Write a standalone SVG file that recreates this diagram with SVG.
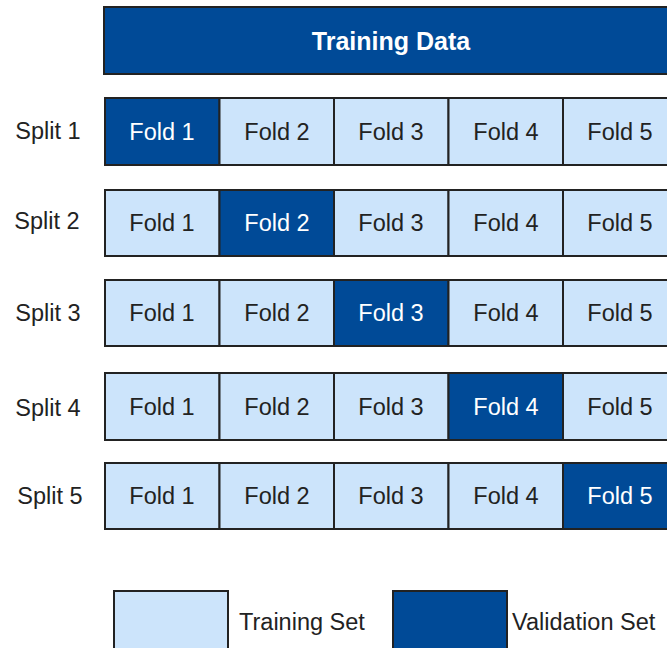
<svg xmlns="http://www.w3.org/2000/svg" width="667" height="648" viewBox="0 0 667 648">
  <style>
    .cell { stroke: #222; stroke-width: 2; }
    .train { fill: #cce4fb; }
    .valid { fill: #004a97; }
    text { font-family: "Liberation Sans", Arial, sans-serif; font-size: 23.5px; }
    .lbl { fill: #222; text-anchor: middle; }
    .lblw { fill: #fff; text-anchor: middle; }
    .split { fill: #222; text-anchor: middle; }
    .legend { fill: #222; text-anchor: start; }
    .title { fill: #fff; font-weight: bold; font-size: 25px; text-anchor: middle; }
  </style>

  <!-- Header bar -->
  <g id="training-data">
    <rect class="cell valid" x="104" y="7" width="580" height="67"/>
    <text class="title" x="391" y="50">Training Data</text>
  </g>

  <!-- Split 1 -->
  <g id="split-1">
    <text class="split" x="48" y="139">Split 1</text>
    <rect class="cell valid" x="105" y="98" width="114.5" height="67"/>
    <rect class="cell train" x="219.5" y="98" width="114.5" height="67"/>
    <rect class="cell train" x="334" y="98" width="114.5" height="67"/>
    <rect class="cell train" x="448.5" y="98" width="114.5" height="67"/>
    <rect class="cell train" x="563" y="98" width="114.5" height="67"/>
    <text class="lblw" x="162" y="140">Fold 1</text>
    <text class="lbl" x="277" y="140">Fold 2</text>
    <text class="lbl" x="391" y="140">Fold 3</text>
    <text class="lbl" x="506" y="140">Fold 4</text>
    <text class="lbl" x="620" y="140">Fold 5</text>
  </g>

  <!-- Split 2 -->
  <g id="split-2">
    <text class="split" x="47" y="229">Split 2</text>
    <rect class="cell train" x="105" y="190" width="114.5" height="66"/>
    <rect class="cell valid" x="219.5" y="190" width="114.5" height="66"/>
    <rect class="cell train" x="334" y="190" width="114.5" height="66"/>
    <rect class="cell train" x="448.5" y="190" width="114.5" height="66"/>
    <rect class="cell train" x="563" y="190" width="114.5" height="66"/>
    <text class="lbl" x="162" y="231">Fold 1</text>
    <text class="lblw" x="277" y="231">Fold 2</text>
    <text class="lbl" x="391" y="231">Fold 3</text>
    <text class="lbl" x="506" y="231">Fold 4</text>
    <text class="lbl" x="620" y="231">Fold 5</text>
  </g>

  <!-- Split 3 -->
  <g id="split-3">
    <text class="split" x="48" y="321">Split 3</text>
    <rect class="cell train" x="105" y="280" width="114.5" height="66"/>
    <rect class="cell train" x="219.5" y="280" width="114.5" height="66"/>
    <rect class="cell valid" x="334" y="280" width="114.5" height="66"/>
    <rect class="cell train" x="448.5" y="280" width="114.5" height="66"/>
    <rect class="cell train" x="563" y="280" width="114.5" height="66"/>
    <text class="lbl" x="162" y="321">Fold 1</text>
    <text class="lbl" x="277" y="321">Fold 2</text>
    <text class="lblw" x="391" y="321">Fold 3</text>
    <text class="lbl" x="506" y="321">Fold 4</text>
    <text class="lbl" x="620" y="321">Fold 5</text>
  </g>

  <!-- Split 4 -->
  <g id="split-4">
    <text class="split" x="48" y="416">Split 4</text>
    <rect class="cell train" x="105" y="373" width="114.5" height="67"/>
    <rect class="cell train" x="219.5" y="373" width="114.5" height="67"/>
    <rect class="cell train" x="334" y="373" width="114.5" height="67"/>
    <rect class="cell valid" x="448.5" y="373" width="114.5" height="67"/>
    <rect class="cell train" x="563" y="373" width="114.5" height="67"/>
    <text class="lbl" x="162" y="415">Fold 1</text>
    <text class="lbl" x="277" y="415">Fold 2</text>
    <text class="lbl" x="391" y="415">Fold 3</text>
    <text class="lblw" x="506" y="415">Fold 4</text>
    <text class="lbl" x="620" y="415">Fold 5</text>
  </g>

  <!-- Split 5 -->
  <g id="split-5">
    <text class="split" x="50" y="504">Split 5</text>
    <rect class="cell train" x="105" y="463" width="114.5" height="66"/>
    <rect class="cell train" x="219.5" y="463" width="114.5" height="66"/>
    <rect class="cell train" x="334" y="463" width="114.5" height="66"/>
    <rect class="cell train" x="448.5" y="463" width="114.5" height="66"/>
    <rect class="cell valid" x="563" y="463" width="114.5" height="66"/>
    <text class="lbl" x="162" y="504">Fold 1</text>
    <text class="lbl" x="277" y="504">Fold 2</text>
    <text class="lbl" x="391" y="504">Fold 3</text>
    <text class="lbl" x="506" y="504">Fold 4</text>
    <text class="lblw" x="620" y="504">Fold 5</text>
  </g>

  <!-- Legend -->
  <g id="legend-training">
    <rect class="cell train" x="114" y="591" width="114" height="66"/>
    <text class="legend" x="239" y="630">Training Set</text>
  </g>
  <g id="legend-validation">
    <rect class="cell valid" x="393" y="591" width="114" height="66"/>
    <text class="legend" x="512" y="630">Validation Set</text>
  </g>
</svg>
